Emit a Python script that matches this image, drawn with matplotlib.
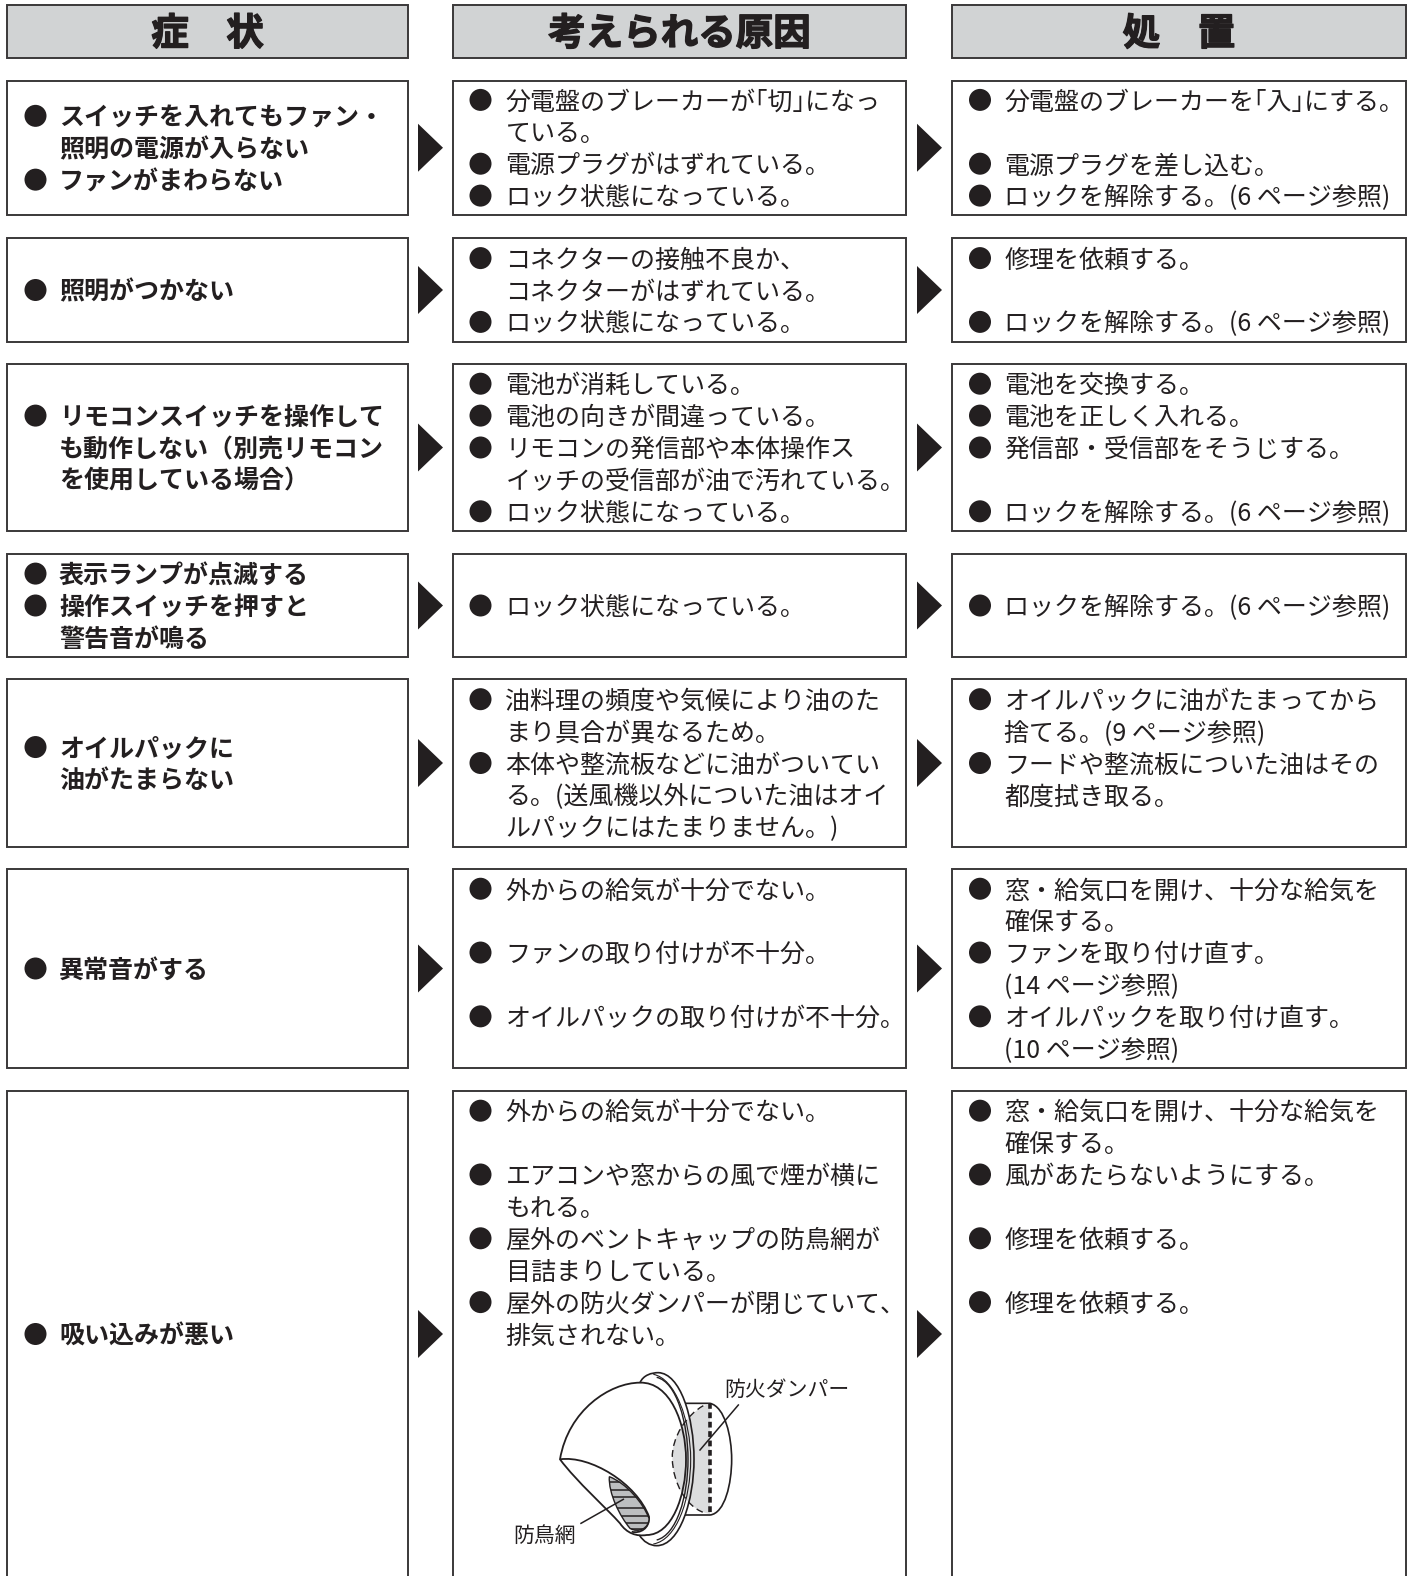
import matplotlib
matplotlib.use("Agg")
import matplotlib.pyplot as plt
import matplotlib.patheffects as pe
from matplotlib.patches import Rectangle, Circle, Polygon, PathPatch
from matplotlib.path import Path

plt.rcParams['font.family'] = ['Noto Sans CJK JP', 'DejaVu Sans']

INK = "#231f20"
B = "● "  # marca de viñeta al inicio de la linea

headers = ["症　状", "考えられる原因", "処　置"]

sintomas = [
    [B + "スイッチを入れてもファン・", "照明の電源が入らない", B + "ファンがまわらない"],
    [B + "照明がつかない"],
    [B + "リモコンスイッチを操作して", "も動作しない（別売リモコン", "を使用している場合）"],
    [B + "表示ランプが点滅する", B + "操作スイッチを押すと", "警告音が鳴る"],
    [B + "オイルパックに", "油がたまらない"],
    [B + "異常音がする"],
    [B + "吸い込みが悪い"],
]

causas = [
    [B + "分電盤のブレーカーが｢切｣になっ", "ている。", B + "電源プラグがはずれている。", B + "ロック状態になっている。"],
    [B + "コネクターの接触不良か、", "コネクターがはずれている。", B + "ロック状態になっている。"],
    [B + "電池が消耗している。", B + "電池の向きが間違っている。", B + "リモコンの発信部や本体操作ス",
     "イッチの受信部が油で汚れている。", B + "ロック状態になっている。"],
    [B + "ロック状態になっている。"],
    [B + "油料理の頻度や気候により油のた", "まり具合が異なるため。", B + "本体や整流板などに油がついてい",
     "る。(送風機以外についた油はオイ", "ルパックにはたまりません。)"],
    [B + "外からの給気が十分でない。", "", B + "ファンの取り付けが不十分。", "",
     B + "オイルパックの取り付けが不十分。", ""],
    [B + "外からの給気が十分でない。", "", B + "エアコンや窓からの風で煙が横に", "もれる。",
     B + "屋外のベントキャップの防鳥網が", "目詰まりしている。", B + "屋外の防火ダンパーが閉じていて、", "排気されない。",
     "", "", "", "", "", "", ""],
]

処置 = [
    [B + "分電盤のブレーカーを｢入｣にする。", "", B + "電源プラグを差し込む。", B + "ロックを解除する。(6 ページ参照)"],
    [B + "修理を依頼する。", "", B + "ロックを解除する。(6 ページ参照)"],
    [B + "電池を交換する。", B + "電池を正しく入れる。", B + "発信部・受信部をそうじする。", "",
     B + "ロックを解除する。(6 ページ参照)"],
    [B + "ロックを解除する。(6 ページ参照)"],
    [B + "オイルパックに油がたまってから", "捨てる。(9 ページ参照)", B + "フードや整流板についた油はその",
     "都度拭き取る。", ""],
    [B + "窓・給気口を開け、十分な給気を", "確保する。", B + "ファンを取り付け直す。", "(14 ページ参照)",
     B + "オイルパックを取り付け直す。", "(10 ページ参照)"],
    [B + "窓・給気口を開け、十分な給気を", "確保する。", B + "風があたらないようにする。", "",
     B + "修理を依頼する。", "", B + "修理を依頼する。",
     "", "", "", "", "", "", "", ""],
]

columnas = [sintomas, causas, 処置]

col_x = [(7, 408), (453, 906), (952, 1406)]
bullet_x = [35.5, 480.5, 980]
text_x = [59, 505.5, 1004.5]
head_y = (5, 58)
row_y = [(80.5, 215), (238, 342), (364, 531), (554, 657), (679, 847), (869, 1068), (1091, 1600)]
PITCH = 31.9
CENTRO_ULTIMA = 1334

fig = plt.figure(figsize=(14.13, 15.76), dpi=100)
ax = fig.add_axes([0, 0, 1, 1])
ax.set_xlim(0, 1413)
ax.set_ylim(1576, 0)
ax.axis("off")


def caja(x0, x1, y0, y1, fc="white"):
    ax.add_patch(Rectangle((x0, y0), x1 - x0, y1 - y0, fc=fc, ec="#3a3839", lw=1.4, zorder=1))


# Encabezados
for (x0, x1), titulo in zip(col_x, headers):
    caja(x0, x1, head_y[0], head_y[1], fc="#d1d3d4")
    ax.text((x0 + x1) / 2, 33.5, titulo, ha="center", va="center", fontsize=27, fontweight="bold", color=INK,
            path_effects=[pe.withStroke(linewidth=1.0, foreground=INK)])

# Filas
for c, col in enumerate(columnas):
    x0, x1 = col_x[c]
    for r, lineas in enumerate(col):
        y0, y1 = row_y[r]
        centro = CENTRO_ULTIMA if r == len(row_y) - 1 else (y0 + y1) / 2
        caja(x0, x1, y0, y1)
        inicio = centro - (len(lineas) - 1) / 2 * PITCH
        for i, linea in enumerate(lineas):
            if linea == "":
                continue
            y = inicio + i * PITCH
            if linea.startswith(B):
                ax.add_patch(Circle((bullet_x[c], y), 11, fc=INK, ec="none", zorder=3))
                linea = linea[len(B):]
            ax.text(text_x[c], y + 2.5, linea, ha="left", va="center", fontsize=18, color=INK,
                    fontweight="bold" if c == 0 else "normal", zorder=3)

# Flechas entre columnas
for y0, y1 in row_y:
    centro = CENTRO_ULTIMA if y1 > 1576 else (y0 + y1) / 2
    for xa in (418, 917):
        ax.add_patch(Polygon([(xa, centro - 24), (xa + 25, centro), (xa, centro + 24)], fc=INK, ec="none", zorder=3))


# Dibujo de la tapa de ventilacion (coordenadas del recorte ampliado x3)
def z(x, y):
    return (480 + x / 3, 1340 + y / 3)


def curva(puntos, fc="none", ec=INK, lw=1.2, ls="-", zorder=4, cerrar=False):
    verts = [z(*puntos[0])]
    codes = [Path.MOVETO]
    for p in puntos[1:]:
        if len(p) == 2:
            verts.append(z(*p))
            codes.append(Path.LINETO)
        else:
            verts += [z(p[0], p[1]), z(p[2], p[3]), z(p[4], p[5])]
            codes += [Path.CURVE4] * 3
    if cerrar:
        verts.append(verts[0])
        codes.append(Path.CLOSEPOLY)
    patch = PathPatch(Path(verts, codes), fc=fc, ec=ec, lw=lw, ls=ls, zorder=zorder)
    ax.add_patch(patch)
    return patch


aro = [(480, 128), (490, 105, 515, 98, 535, 98), (600, 100, 642, 230, 642, 358),
       (642, 480, 600, 617, 530, 617), (510, 617, 490, 605, 478, 585)]
cupula = [(240, 358), (265, 210, 390, 128, 480, 128), (570, 125, 618, 250, 618, 358),
          (618, 470, 575, 585, 500, 585), (470, 590, 440, 580, 420, 550), (380, 505, 290, 425, 240, 358)]

# cilindro trasero
curva([(612, 190), (690, 190), (735, 200, 755, 290, 755, 358), (755, 430, 735, 520, 690, 525), (612, 525)], fc="white", zorder=4)
# rellenos blancos
curva(aro, fc="white", ec="none", zorder=5)
curva(cupula, fc="white", ec="none", zorder=6, cerrar=True)
# zona gris de la compuerta, se ve a traves del aro
curva([(690, 190), (620, 215, 575, 290, 577, 355), (578, 430, 620, 510, 690, 522)], fc="#dcddde", ec="none", zorder=7, cerrar=True)
curva([(670, 197), (620, 225, 575, 290, 577, 355), (578, 430, 620, 500, 670, 517)], lw=1.0, ls=(0, (5, 3)), zorder=8)
ax.plot(*zip(z(690, 190), z(690, 525)), color=INK, lw=2.6, ls=(0, (1.6, 1.0)), zorder=8)
# lineas del aro y la cupula
curva(aro, zorder=9)
curva([(520, 103), (585, 115, 632, 240, 632, 358), (632, 480, 590, 600, 520, 612)], lw=0.8, zorder=9)
curva([(530, 112), (590, 125, 624, 250, 624, 358), (624, 470, 590, 585, 530, 600)], lw=1.0, zorder=9)
curva(cupula, lw=1.3, zorder=9, cerrar=True)
curva([(240, 358), (330, 345, 470, 430, 507, 530), (510, 565, 480, 582, 455, 575)], lw=1.3, zorder=9)
# malla
malla = curva([(388, 410), (440, 430, 490, 490, 507, 535), (508, 565, 475, 580, 450, 565), (420, 530, 385, 460, 388, 410)],
              fc="#bcbec0", lw=1.0, zorder=9, cerrar=True)
for yz in (425, 450, 470, 503, 528, 550, 568):
    lin, = ax.plot(*zip(z(380, yz), z(515, yz)), color=INK, lw=1.1, zorder=10)
    lin.set_clip_path(malla)
# lineas guia
ax.plot(*zip(z(775, 195), z(660, 330)), color=INK, lw=1.1, zorder=11)
ax.plot(*zip(z(303, 550), z(430, 478)), color=INK, lw=1.1, zorder=11)
ax.text(*z(732, 150), "防火ダンパー", ha="left", va="center", fontsize=15, color=INK, zorder=11)
ax.text(*z(100, 587), "防鳥網", ha="left", va="center", fontsize=15, color=INK, zorder=11)

fig.savefig("out.png", dpi=100)
